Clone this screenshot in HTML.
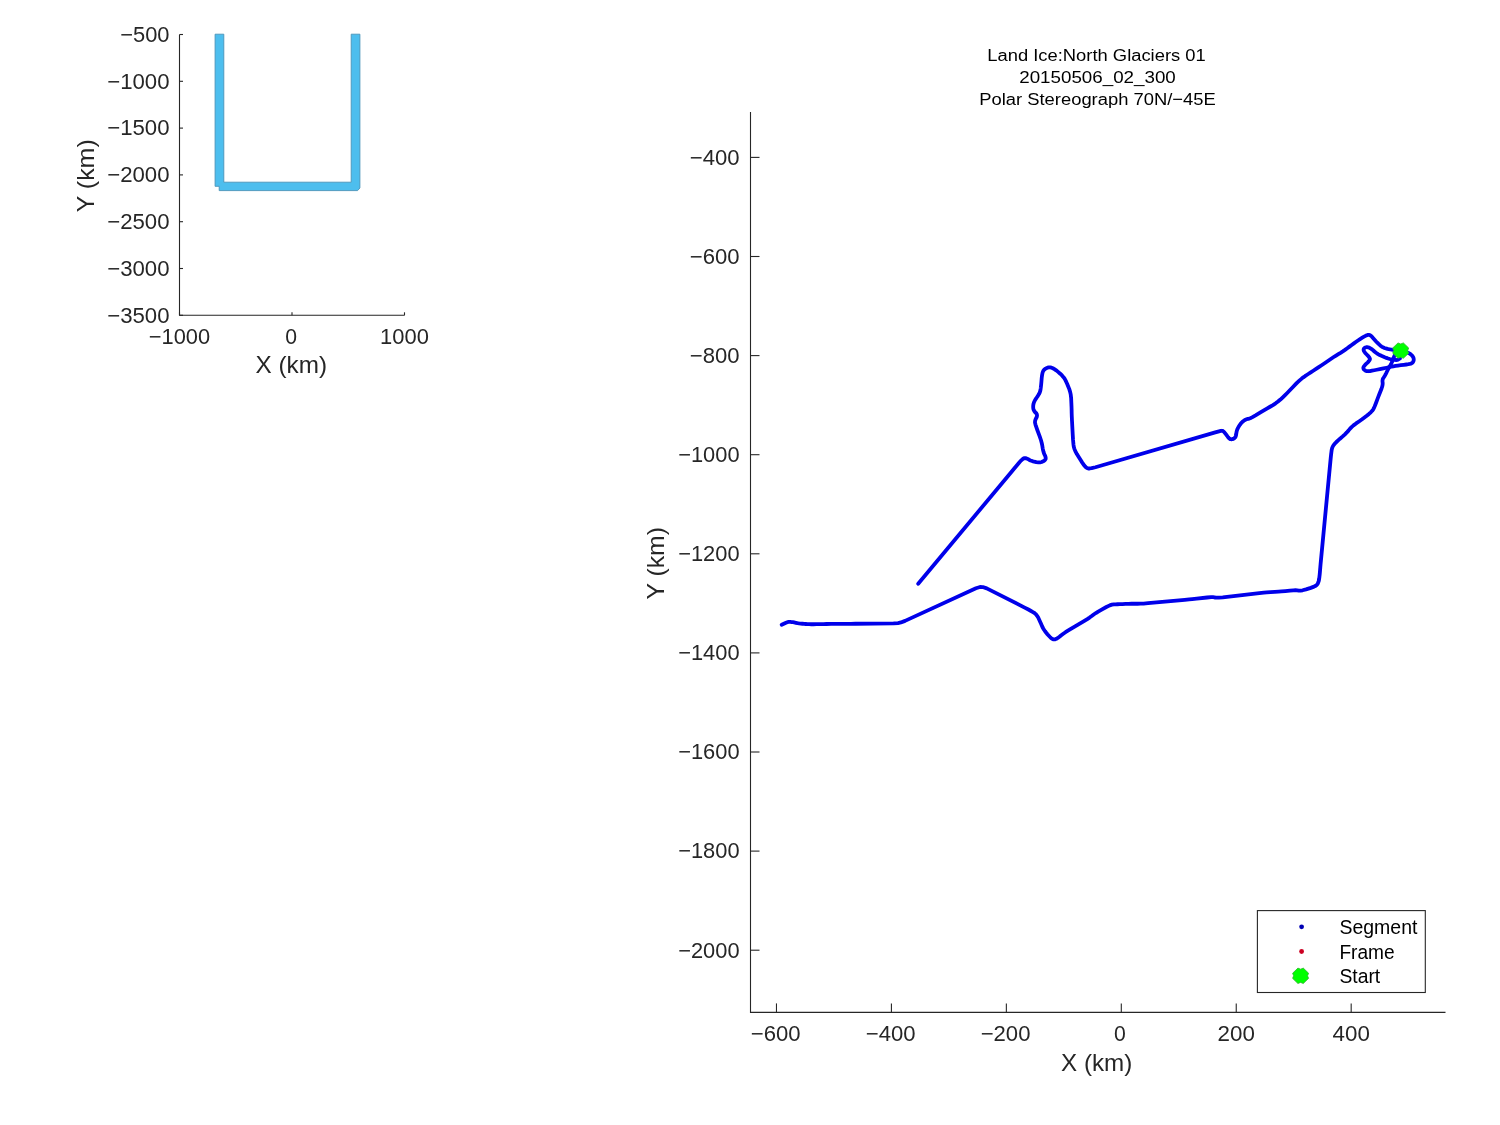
<!DOCTYPE html>
<html><head><meta charset="utf-8"><style>
html,body{margin:0;padding:0;background:#fff;}
svg{display:block;font-family:"Liberation Sans", sans-serif;will-change:transform;}
</style></head><body>
<svg width="1500" height="1125" viewBox="0 0 1500 1125">
<rect width="1500" height="1125" fill="#fff"/>
<path d="M215.1 34.2 H223.8 V182.2 H351.2 V34.2 H359.9 V188 L357.6 190.6 H219.2 V186.3 H215.1 Z" fill="#4DBEEE" stroke="#4a93b8" stroke-width="0.9"/>
<path d="M179.5 34.5 V315.3 H404.5" fill="none" stroke="#262626" stroke-width="1.1"/>
<line x1="179.5" y1="34.5" x2="183.0" y2="34.5" stroke="#262626" stroke-width="1.1"/>
<text x="169.5" y="41.8" font-size="21.2" text-anchor="end" fill="#262626" textLength="49.3" lengthAdjust="spacingAndGlyphs">−500</text>
<line x1="179.5" y1="81.3" x2="183.0" y2="81.3" stroke="#262626" stroke-width="1.1"/>
<text x="169.5" y="88.6" font-size="21.2" text-anchor="end" fill="#262626" textLength="62.3" lengthAdjust="spacingAndGlyphs">−1000</text>
<line x1="179.5" y1="128.1" x2="183.0" y2="128.1" stroke="#262626" stroke-width="1.1"/>
<text x="169.5" y="135.4" font-size="21.2" text-anchor="end" fill="#262626" textLength="62.3" lengthAdjust="spacingAndGlyphs">−1500</text>
<line x1="179.5" y1="174.9" x2="183.0" y2="174.9" stroke="#262626" stroke-width="1.1"/>
<text x="169.5" y="182.2" font-size="21.2" text-anchor="end" fill="#262626" textLength="62.3" lengthAdjust="spacingAndGlyphs">−2000</text>
<line x1="179.5" y1="221.7" x2="183.0" y2="221.7" stroke="#262626" stroke-width="1.1"/>
<text x="169.5" y="229.0" font-size="21.2" text-anchor="end" fill="#262626" textLength="62.3" lengthAdjust="spacingAndGlyphs">−2500</text>
<line x1="179.5" y1="268.5" x2="183.0" y2="268.5" stroke="#262626" stroke-width="1.1"/>
<text x="169.5" y="275.8" font-size="21.2" text-anchor="end" fill="#262626" textLength="62.3" lengthAdjust="spacingAndGlyphs">−3000</text>
<line x1="179.5" y1="315.3" x2="183.0" y2="315.3" stroke="#262626" stroke-width="1.1"/>
<text x="169.5" y="322.6" font-size="21.2" text-anchor="end" fill="#262626" textLength="62.3" lengthAdjust="spacingAndGlyphs">−3500</text>
<line x1="179.5" y1="315.3" x2="179.5" y2="312.3" stroke="#262626" stroke-width="1.1"/>
<text x="179.5" y="344" font-size="21.2" text-anchor="middle" fill="#262626" textLength="61.3" lengthAdjust="spacingAndGlyphs">−1000</text>
<line x1="292.0" y1="315.3" x2="292.0" y2="312.3" stroke="#262626" stroke-width="1.1"/>
<text x="291.2" y="344" font-size="21.2" text-anchor="middle" fill="#262626">0</text>
<line x1="404.5" y1="315.3" x2="404.5" y2="312.3" stroke="#262626" stroke-width="1.1"/>
<text x="404.5" y="344" font-size="21.2" text-anchor="middle" fill="#262626" textLength="48.8" lengthAdjust="spacingAndGlyphs">1000</text>
<text x="291.3" y="373" font-size="24.5" text-anchor="middle" fill="#262626" textLength="71.4" lengthAdjust="spacingAndGlyphs">X (km)</text>
<text x="0" y="0" font-size="24.5" text-anchor="middle" fill="#262626" textLength="73" lengthAdjust="spacingAndGlyphs" transform="translate(94.2 175.8) rotate(-90)">Y (km)</text>
<path d="M750.5 112.0 V1012.4 H1445.5" fill="none" stroke="#262626" stroke-width="1.1"/>
<line x1="750.5" y1="157.4" x2="759.5" y2="157.4" stroke="#262626" stroke-width="1.1"/>
<text x="739.6" y="164.7" font-size="21.2" text-anchor="end" fill="#262626" textLength="49.8" lengthAdjust="spacingAndGlyphs">−400</text>
<line x1="750.5" y1="256.5" x2="759.5" y2="256.5" stroke="#262626" stroke-width="1.1"/>
<text x="739.6" y="263.8" font-size="21.2" text-anchor="end" fill="#262626" textLength="49.8" lengthAdjust="spacingAndGlyphs">−600</text>
<line x1="750.5" y1="355.6" x2="759.5" y2="355.6" stroke="#262626" stroke-width="1.1"/>
<text x="739.6" y="362.9" font-size="21.2" text-anchor="end" fill="#262626" textLength="49.8" lengthAdjust="spacingAndGlyphs">−800</text>
<line x1="750.5" y1="454.7" x2="759.5" y2="454.7" stroke="#262626" stroke-width="1.1"/>
<text x="739.6" y="462.0" font-size="21.2" text-anchor="end" fill="#262626" textLength="61.4" lengthAdjust="spacingAndGlyphs">−1000</text>
<line x1="750.5" y1="553.8" x2="759.5" y2="553.8" stroke="#262626" stroke-width="1.1"/>
<text x="739.6" y="561.1" font-size="21.2" text-anchor="end" fill="#262626" textLength="61.4" lengthAdjust="spacingAndGlyphs">−1200</text>
<line x1="750.5" y1="652.9" x2="759.5" y2="652.9" stroke="#262626" stroke-width="1.1"/>
<text x="739.6" y="660.2" font-size="21.2" text-anchor="end" fill="#262626" textLength="61.4" lengthAdjust="spacingAndGlyphs">−1400</text>
<line x1="750.5" y1="752.0" x2="759.5" y2="752.0" stroke="#262626" stroke-width="1.1"/>
<text x="739.6" y="759.3" font-size="21.2" text-anchor="end" fill="#262626" textLength="61.4" lengthAdjust="spacingAndGlyphs">−1600</text>
<line x1="750.5" y1="851.1" x2="759.5" y2="851.1" stroke="#262626" stroke-width="1.1"/>
<text x="739.6" y="858.4" font-size="21.2" text-anchor="end" fill="#262626" textLength="61.4" lengthAdjust="spacingAndGlyphs">−1800</text>
<line x1="750.5" y1="950.2" x2="759.5" y2="950.2" stroke="#262626" stroke-width="1.1"/>
<text x="739.6" y="957.5" font-size="21.2" text-anchor="end" fill="#262626" textLength="61.4" lengthAdjust="spacingAndGlyphs">−2000</text>
<line x1="776.48" y1="1012.4" x2="776.48" y2="1003.4" stroke="#262626" stroke-width="1.1"/>
<text x="775.6800000000001" y="1041" font-size="21.2" text-anchor="middle" fill="#262626" textLength="49.8" lengthAdjust="spacingAndGlyphs">−600</text>
<line x1="891.42" y1="1012.4" x2="891.42" y2="1003.4" stroke="#262626" stroke-width="1.1"/>
<text x="890.62" y="1041" font-size="21.2" text-anchor="middle" fill="#262626" textLength="49.8" lengthAdjust="spacingAndGlyphs">−400</text>
<line x1="1006.36" y1="1012.4" x2="1006.36" y2="1003.4" stroke="#262626" stroke-width="1.1"/>
<text x="1005.5600000000001" y="1041" font-size="21.2" text-anchor="middle" fill="#262626" textLength="49.8" lengthAdjust="spacingAndGlyphs">−200</text>
<line x1="1121.3" y1="1012.4" x2="1121.3" y2="1003.4" stroke="#262626" stroke-width="1.1"/>
<text x="1119.8999999999999" y="1041" font-size="21.2" text-anchor="middle" fill="#262626">0</text>
<line x1="1236.24" y1="1012.4" x2="1236.24" y2="1003.4" stroke="#262626" stroke-width="1.1"/>
<text x="1236.24" y="1041" font-size="21.2" text-anchor="middle" fill="#262626" textLength="37.3" lengthAdjust="spacingAndGlyphs">200</text>
<line x1="1351.18" y1="1012.4" x2="1351.18" y2="1003.4" stroke="#262626" stroke-width="1.1"/>
<text x="1351.18" y="1041" font-size="21.2" text-anchor="middle" fill="#262626" textLength="37.3" lengthAdjust="spacingAndGlyphs">400</text>
<text x="1096.7" y="1071" font-size="24.5" text-anchor="middle" fill="#262626" textLength="71.2" lengthAdjust="spacingAndGlyphs">X (km)</text>
<text x="0" y="0" font-size="24.5" text-anchor="middle" fill="#262626" textLength="72.5" lengthAdjust="spacingAndGlyphs" transform="translate(663.5 563.3) rotate(-90)">Y (km)</text>
<text x="1096.5" y="61" font-size="17.3" text-anchor="middle" fill="#000" textLength="218.5" lengthAdjust="spacingAndGlyphs">Land Ice:North Glaciers 01</text>
<text x="1097.5" y="83" font-size="17.3" text-anchor="middle" fill="#000" textLength="156.6" lengthAdjust="spacingAndGlyphs">20150506_02_300</text>
<text x="1097.5" y="104.9" font-size="17.3" text-anchor="middle" fill="#000" textLength="236.6" lengthAdjust="spacingAndGlyphs">Polar Stereograph 70N/−45E</text>
<path d="M781.70 624.70 L785.41 623.01 L787.27 622.28 L788.52 621.94 L789.58 621.81 L790.42 621.89 L791.48 622.02 L792.73 622.22 L794.17 622.49 L795.83 622.81 L797.48 623.10 L799.14 623.35 L800.81 623.56 L802.49 623.74 L804.16 623.89 L805.84 624.01 L807.51 624.11 L809.19 624.19 L811.19 624.23 L813.53 624.23 L816.52 624.19 L820.18 624.11 L823.50 624.04 L826.50 624.00 L831.00 623.95 L843.40 623.85 L847.90 623.81 L850.90 623.79 L855.40 623.75 L893.60 623.45 L898.03 623.10 L900.89 622.46 L905.05 620.89 L975.95 588.21 L980.03 586.98 L982.73 587.03 L986.75 588.41 L1024.65 607.59 L1028.41 609.53 L1030.59 610.71 L1032.51 611.80 L1034.19 612.80 L1035.69 614.09 L1037.03 615.68 L1038.20 617.56 L1039.20 619.74 L1040.11 621.74 L1040.94 623.58 L1041.67 625.25 L1042.33 626.75 L1043.11 628.25 L1044.02 629.75 L1045.06 631.25 L1046.24 632.75 L1047.41 634.17 L1048.59 635.51 L1049.76 636.76 L1050.94 637.94 L1052.07 638.78 L1053.16 639.28 L1054.20 639.44 L1055.20 639.26 L1056.41 638.76 L1057.82 637.92 L1059.44 636.75 L1061.26 635.25 L1063.28 633.74 L1065.48 632.22 L1069.16 629.93 L1083.54 621.37 L1087.27 619.08 L1089.56 617.56 L1091.70 616.05 L1093.70 614.55 L1095.86 613.06 L1098.17 611.59 L1101.67 609.58 L1106.33 607.02 L1109.75 605.38 L1111.90 604.66 L1113.81 604.30 L1115.49 604.30 L1117.49 604.26 L1119.83 604.19 L1122.50 604.08 L1125.50 603.92 L1128.50 603.82 L1131.50 603.76 L1134.52 603.74 L1137.58 603.76 L1140.60 603.71 L1143.59 603.58 L1148.07 603.23 L1184.73 599.77 L1189.21 599.34 L1192.19 599.04 L1196.67 598.59 L1207.13 597.51 L1211.09 597.20 L1213.05 597.18 L1214.49 597.31 L1215.41 597.59 L1216.85 597.71 L1218.80 597.67 L1222.76 597.31 L1259.34 593.09 L1263.81 592.62 L1266.80 592.36 L1270.47 592.12 L1274.83 591.88 L1278.50 591.64 L1281.49 591.41 L1285.29 591.04 L1289.91 590.56 L1293.31 590.30 L1295.50 590.27 L1297.30 590.38 L1298.70 590.62 L1300.47 590.59 L1302.60 590.26 L1306.03 589.35 L1310.77 587.85 L1314.02 586.64 L1315.77 585.71 L1316.97 584.77 L1317.62 583.83 L1318.17 582.71 L1318.62 581.44 L1318.97 580.00 L1319.22 578.40 L1319.46 576.58 L1319.69 574.52 L1319.90 572.25 L1320.10 569.75 L1320.32 567.13 L1320.56 564.39 L1320.97 560.03 L1330.43 460.97 L1330.85 456.73 L1331.13 454.21 L1331.41 451.93 L1331.69 449.88 L1332.16 448.03 L1332.84 446.38 L1333.71 444.93 L1334.79 443.68 L1336.16 442.25 L1337.84 440.65 L1340.01 438.70 L1342.69 436.40 L1344.95 434.32 L1346.80 432.46 L1348.44 430.64 L1349.86 428.86 L1351.55 427.11 L1353.50 425.37 L1356.09 423.40 L1359.31 421.20 L1362.10 419.23 L1364.45 417.49 L1366.74 415.74 L1368.96 413.96 L1370.79 412.32 L1372.21 410.81 L1373.24 409.43 L1373.86 408.18 L1374.59 406.53 L1375.42 404.50 L1376.37 402.04 L1377.43 399.16 L1378.47 396.39 L1379.49 393.75 L1380.50 391.19 L1381.50 388.71 L1382.20 386.52 L1382.60 384.61 L1382.70 382.98 L1382.50 381.62 L1382.51 380.39 L1382.74 379.26 L1383.17 378.25 L1383.83 377.35 L1384.53 376.22 L1385.29 374.88 L1386.11 373.30 L1386.99 371.50 L1387.87 369.76 L1388.76 368.09 L1389.65 366.48 L1390.55 364.93 L1391.39 363.31 L1392.18 361.64 L1393.08 359.45 L1394.60 355.40" fill="none" stroke="#0000EA" stroke-width="3.8" stroke-linejoin="round" stroke-linecap="round"/>
<path d="M918.20 583.80 L1011.16 472.21 L1014.03 468.77 L1015.93 466.51 L1017.81 464.26 L1019.69 462.04 L1021.29 460.31 L1022.63 459.07 L1023.70 458.32 L1024.50 458.07 L1025.43 458.09 L1026.49 458.36 L1027.69 458.90 L1029.01 459.70 L1030.54 460.43 L1032.26 461.09 L1034.19 461.69 L1036.31 462.21 L1038.28 462.44 L1040.07 462.36 L1041.71 461.99 L1043.19 461.31 L1044.33 460.61 L1045.12 459.87 L1045.59 459.10 L1045.71 458.30 L1045.64 457.40 L1045.38 456.40 L1044.92 455.30 L1044.28 454.10 L1043.69 452.54 L1043.16 450.61 L1042.70 448.32 L1042.30 445.68 L1041.74 442.99 L1041.01 440.26 L1039.60 436.08 L1037.40 430.22 L1036.06 426.46 L1035.47 424.57 L1035.11 423.14 L1034.99 422.16 L1035.09 421.06 L1035.41 419.84 L1035.96 418.49 L1036.74 417.01 L1037.04 415.65 L1036.88 414.40 L1036.25 413.26 L1035.15 412.24 L1034.29 411.13 L1033.68 409.94 L1033.31 408.68 L1033.19 407.32 L1033.19 406.01 L1033.33 404.74 L1033.60 403.50 L1034.00 402.30 L1034.63 400.94 L1035.49 399.41 L1036.59 397.73 L1037.91 395.88 L1038.98 394.09 L1039.78 392.36 L1040.31 390.70 L1040.59 389.10 L1040.86 387.15 L1041.12 384.86 L1041.40 381.86 L1041.70 378.14 L1042.05 375.28 L1042.43 373.26 L1042.89 371.73 L1043.41 370.68 L1044.14 369.75 L1045.06 368.95 L1046.19 368.27 L1047.51 367.73 L1048.84 367.45 L1050.18 367.45 L1051.53 367.73 L1052.88 368.27 L1054.42 369.15 L1056.16 370.35 L1058.09 371.88 L1060.21 373.73 L1062.01 375.48 L1063.47 377.14 L1064.60 378.71 L1065.40 380.19 L1066.27 381.96 L1067.21 384.04 L1068.21 386.41 L1069.29 389.09 L1070.13 391.84 L1070.74 394.68 L1071.15 398.32 L1071.35 402.78 L1071.50 406.19 L1071.58 408.56 L1071.64 410.62 L1071.66 412.38 L1071.72 414.44 L1071.81 416.81 L1072.01 420.99 L1072.79 435.71 L1073.05 439.95 L1073.27 442.45 L1073.51 444.70 L1073.79 446.70 L1074.39 448.84 L1075.31 451.12 L1076.86 454.03 L1079.04 457.57 L1080.78 460.35 L1082.09 462.37 L1083.28 464.11 L1084.33 465.59 L1085.35 466.76 L1086.35 467.64 L1087.33 468.21 L1088.28 468.49 L1089.71 468.48 L1091.62 468.20 L1095.46 467.22 L1215.24 432.38 L1218.98 431.34 L1220.71 430.95 L1221.86 430.77 L1222.44 430.82 L1223.08 431.14 L1223.79 431.71 L1224.58 432.55 L1225.42 433.65 L1226.21 434.68 L1226.92 435.62 L1227.56 436.50 L1228.14 437.30 L1228.71 437.96 L1229.29 438.49 L1229.86 438.88 L1230.44 439.12 L1231.07 439.25 L1231.76 439.25 L1232.50 439.12 L1233.30 438.88 L1233.99 438.53 L1234.58 438.09 L1235.06 437.56 L1235.44 436.94 L1235.76 436.12 L1236.04 435.12 L1236.26 433.94 L1236.44 432.56 L1236.71 431.25 L1237.09 430.00 L1237.56 428.81 L1238.14 427.69 L1238.76 426.59 L1239.42 425.53 L1240.12 424.50 L1240.88 423.50 L1241.69 422.57 L1242.56 421.73 L1243.50 420.95 L1244.50 420.25 L1245.53 419.68 L1246.57 419.24 L1247.65 418.94 L1248.75 418.76 L1250.22 418.24 L1252.05 417.38 L1255.54 415.40 L1260.86 412.20 L1264.72 409.88 L1267.30 408.36 L1270.05 406.75 L1272.95 405.05 L1275.60 403.32 L1278.00 401.54 L1280.40 399.53 L1282.80 397.27 L1285.07 395.09 L1287.20 392.98 L1289.83 390.26 L1292.97 386.94 L1295.42 384.41 L1297.17 382.67 L1298.78 381.15 L1300.22 379.85 L1301.74 378.59 L1303.33 377.36 L1304.99 376.18 L1306.71 375.02 L1308.64 373.76 L1310.76 372.37 L1313.24 370.76 L1316.06 368.94 L1318.73 367.19 L1321.22 365.53 L1324.95 363.00 L1330.05 359.50 L1333.70 357.04 L1336.05 355.53 L1338.34 354.11 L1340.56 352.79 L1342.79 351.38 L1345.01 349.88 L1347.24 348.29 L1349.46 346.61 L1351.69 344.97 L1353.91 343.36 L1356.14 341.77 L1358.36 340.23 L1360.42 338.86 L1362.31 337.67 L1364.03 336.66 L1365.58 335.84 L1366.91 335.26 L1368.02 334.92 L1368.91 334.82 L1369.59 334.98 L1370.31 335.34 L1371.09 335.91 L1371.91 336.70 L1372.79 337.70 L1373.67 338.70 L1374.56 339.70 L1375.45 340.70 L1376.35 341.70 L1377.30 342.70 L1378.30 343.70 L1379.35 344.70 L1380.45 345.70 L1381.66 346.57 L1382.99 347.32 L1384.42 347.95 L1385.97 348.45 L1387.47 348.86 L1388.93 349.19 L1390.33 349.43 L1391.67 349.57 L1393.14 349.74 L1394.71 349.91 L1396.40 350.10 L1398.20 350.30 L1399.99 350.56 L1401.76 350.87 L1403.53 351.24 L1405.28 351.66 L1406.89 352.21 L1408.38 352.87 L1409.74 353.65 L1410.96 354.55 L1411.96 355.47 L1412.74 356.43 L1413.29 357.40 L1413.61 358.40 L1413.74 359.37 L1413.68 360.31 L1413.42 361.21 L1412.97 362.09 L1412.39 362.80 L1411.66 363.35 L1410.80 363.74 L1409.80 363.96 L1408.31 364.22 L1406.32 364.50 L1403.81 364.82 L1400.79 365.18 L1398.03 365.55 L1395.54 365.93 L1393.30 366.34 L1391.30 366.76 L1389.06 367.23 L1386.59 367.74 L1383.50 368.37 L1379.80 369.13 L1376.71 369.75 L1374.24 370.25 L1372.00 370.70 L1370.00 371.10 L1368.25 371.23 L1366.75 371.09 L1365.50 370.69 L1364.50 370.01 L1363.81 369.31 L1363.42 368.59 L1363.34 367.84 L1363.56 367.06 L1364.09 366.15 L1364.93 365.10 L1366.08 363.91 L1367.53 362.59 L1368.64 361.43 L1369.41 360.43 L1369.85 359.59 L1369.95 358.91 L1369.64 358.02 L1368.91 356.91 L1367.78 355.57 L1366.22 354.02 L1365.03 352.67 L1364.19 351.51 L1363.71 350.54 L1363.59 349.76 L1363.69 349.07 L1364.03 348.46 L1364.60 347.93 L1365.40 347.48 L1366.25 347.22 L1367.15 347.16 L1368.10 347.29 L1369.10 347.61 L1370.26 348.22 L1371.59 349.11 L1373.08 350.27 L1374.72 351.73 L1376.38 353.01 L1378.04 354.12 L1379.71 355.06 L1381.39 355.84 L1383.06 356.57 L1384.74 357.26 L1386.41 357.90 L1388.09 358.50 L1389.76 359.01 L1391.42 359.42 L1393.08 359.74 L1394.72 359.96 L1396.13 360.02 L1397.29 359.91 L1398.38 359.51 L1399.90 358.50" fill="none" stroke="#0000EA" stroke-width="3.8" stroke-linejoin="round" stroke-linecap="round"/>
<path d="M1398.03 342.92 L1400.70 344.00 L1403.37 342.92 L1408.70 348.04 L1407.63 350.60 L1408.70 353.16 L1403.37 358.28 L1400.70 357.20 L1398.03 358.28 L1392.70 353.16 L1393.77 350.60 L1392.70 348.04 Z" fill="#00FF00" stroke="#2fb52f" stroke-width="0.8"/>
<rect x="1257.4" y="910.6" width="167.9" height="81.9" fill="#fff" stroke="#262626" stroke-width="1.1"/>
<circle cx="1301.6" cy="926.8" r="2.4" fill="#0000B4"/>
<circle cx="1301.6" cy="951.5" r="2.4" fill="#CC0022"/>
<path d="M1297.93 968.12 L1300.60 969.20 L1303.27 968.12 L1308.60 973.24 L1307.53 975.80 L1308.60 978.36 L1303.27 983.48 L1300.60 982.40 L1297.93 983.48 L1292.60 978.36 L1293.67 975.80 L1292.60 973.24 Z" fill="#00FF00" stroke="#2fb52f" stroke-width="0.8"/>
<text x="1339.4" y="933.8" font-size="19.7" text-anchor="start" fill="#000" textLength="78" lengthAdjust="spacingAndGlyphs">Segment</text>
<text x="1339.4" y="958.6" font-size="19.7" text-anchor="start" fill="#000" textLength="55.2" lengthAdjust="spacingAndGlyphs">Frame</text>
<text x="1339.4" y="983.4" font-size="19.7" text-anchor="start" fill="#000" textLength="40.8" lengthAdjust="spacingAndGlyphs">Start</text>
</svg></body></html>
